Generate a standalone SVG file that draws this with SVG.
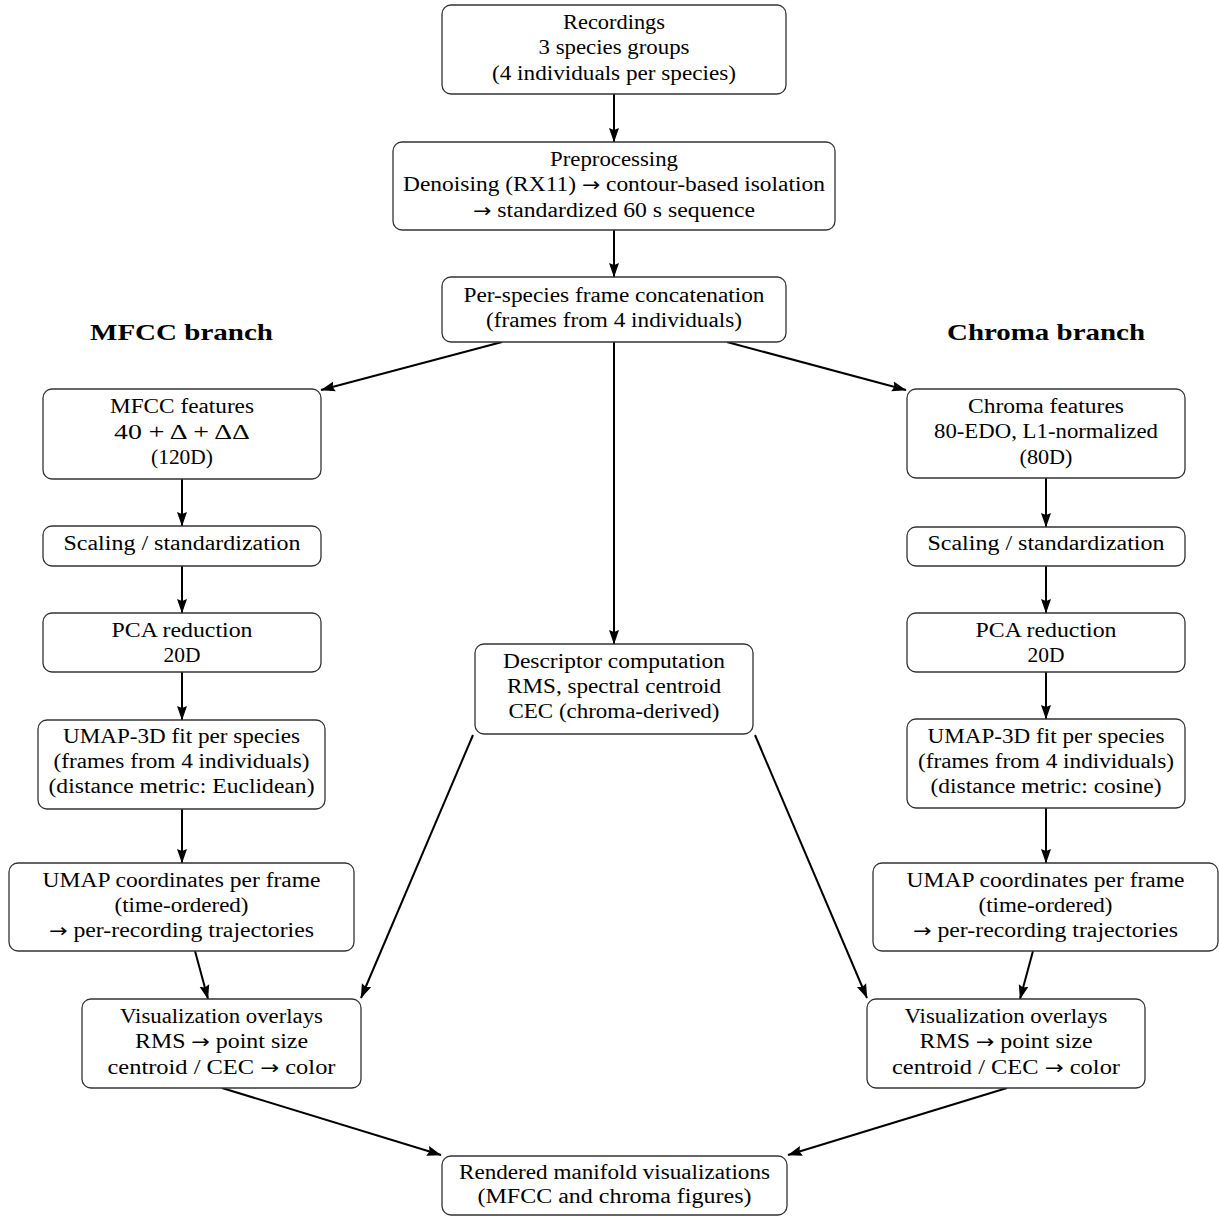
<svg xmlns="http://www.w3.org/2000/svg" width="1219" height="1216" viewBox="0 0 1219 1216">
<style>
  .box { fill: #ffffff; stroke: #333333; stroke-width: 1.3; }
  .t { font-family: "Liberation Serif", "Times New Roman", serif; font-size: 20.5px; fill: #000000; text-anchor: middle; }
  .ar { font-family: "DejaVu Sans", sans-serif; font-size: 19px; }
  .title { font-family: "Liberation Serif", "Times New Roman", serif; font-size: 24px; font-weight: bold; fill: #000000; text-anchor: middle; }
  .edge { fill: none; stroke: #000000; stroke-width: 2; marker-end: url(#arrow); }
</style>
<defs>
  <marker id="arrow" markerUnits="userSpaceOnUse" markerWidth="16" markerHeight="12" refX="14" refY="5.5" orient="auto">
    <path d="M0,0.5 L14.5,5.5 L0,10.5 L2,5.5 z" fill="#000000"/>
  </marker>
</defs>
<rect width="1219" height="1216" fill="#ffffff"/>

<text class="title" x="181.5" y="340" textLength="183" lengthAdjust="spacingAndGlyphs">MFCC branch</text>
<text class="title" x="1046" y="340" textLength="198" lengthAdjust="spacingAndGlyphs">Chroma branch</text>

<g id="connectors">
  <path class="edge" d="M614,94 L614,142"/>
  <path class="edge" d="M614,230 L614,277"/>
  <path class="edge" d="M502,342 L321,390"/>
  <path class="edge" d="M727,342 L906,390"/>
  <path class="edge" d="M614,342 L614,644"/>
  <path class="edge" d="M182,479 L182,526"/>
  <path class="edge" d="M182,566 L182,613"/>
  <path class="edge" d="M182,672 L182,720"/>
  <path class="edge" d="M182,809 L182,863"/>
  <path class="edge" d="M195,951 L208,999"/>
  <path class="edge" d="M473,735 L361,998"/>
  <path class="edge" d="M755,735 L867,998"/>
  <path class="edge" d="M1046,478 L1046,527"/>
  <path class="edge" d="M1046,566 L1046,613"/>
  <path class="edge" d="M1046,672 L1046,719"/>
  <path class="edge" d="M1046,808 L1046,863"/>
  <path class="edge" d="M1033,951 L1020,999"/>
  <path class="edge" d="M222,1088 L441,1155"/>
  <path class="edge" d="M1007,1088 L788,1155"/>
</g>

<g id="recordings">
  <rect class="box" x="442" y="5" width="344" height="89" rx="9"/>
  <text class="t" x="614" y="29" textLength="102" lengthAdjust="spacingAndGlyphs">Recordings</text>
  <text class="t" x="614" y="54" textLength="151" lengthAdjust="spacingAndGlyphs">3 species groups</text>
  <text class="t" x="614" y="79.5" textLength="244" lengthAdjust="spacingAndGlyphs">(4 individuals per species)</text>
</g>

<g id="preprocessing">
  <rect class="box" x="393" y="142" width="442" height="88" rx="9"/>
  <text class="t" x="614" y="166" textLength="128" lengthAdjust="spacingAndGlyphs">Preprocessing</text>
  <text class="t" x="614" y="191" textLength="422" lengthAdjust="spacingAndGlyphs">Denoising (RX11) <tspan class="ar">→</tspan> contour-based isolation</text>
  <text class="t" x="614" y="216.5" textLength="282" lengthAdjust="spacingAndGlyphs"><tspan class="ar">→</tspan> standardized 60 s sequence</text>
</g>

<g id="concatenation">
  <rect class="box" x="442" y="277" width="344" height="65" rx="9"/>
  <text class="t" x="614" y="302" textLength="301" lengthAdjust="spacingAndGlyphs">Per-species frame concatenation</text>
  <text class="t" x="614" y="327" textLength="256" lengthAdjust="spacingAndGlyphs">(frames from 4 individuals)</text>
</g>

<g id="mfcc-features">
  <rect class="box" x="43" y="389" width="278" height="90" rx="9"/>
  <text class="t" x="182" y="413" textLength="144" lengthAdjust="spacingAndGlyphs">MFCC features</text>
  <text class="t" x="182" y="438.5" textLength="136" lengthAdjust="spacingAndGlyphs">40 + Δ + ΔΔ</text>
  <text class="t" x="182" y="464" textLength="62" lengthAdjust="spacingAndGlyphs">(120D)</text>
</g>

<g id="mfcc-scaling">
  <rect class="box" x="43" y="526" width="278" height="40" rx="9"/>
  <text class="t" x="182" y="550" textLength="237" lengthAdjust="spacingAndGlyphs">Scaling / standardization</text>
</g>

<g id="mfcc-pca">
  <rect class="box" x="43" y="613" width="278" height="59" rx="9"/>
  <text class="t" x="182" y="637" textLength="141" lengthAdjust="spacingAndGlyphs">PCA reduction</text>
  <text class="t" x="182" y="662" textLength="37" lengthAdjust="spacingAndGlyphs">20D</text>
</g>

<g id="mfcc-umap">
  <rect class="box" x="38" y="720" width="287" height="89" rx="9"/>
  <text class="t" x="181.5" y="743" textLength="237" lengthAdjust="spacingAndGlyphs">UMAP-3D fit per species</text>
  <text class="t" x="181.5" y="768" textLength="256" lengthAdjust="spacingAndGlyphs">(frames from 4 individuals)</text>
  <text class="t" x="181.5" y="793" textLength="266" lengthAdjust="spacingAndGlyphs">(distance metric: Euclidean)</text>
</g>

<g id="mfcc-coords">
  <rect class="box" x="9" y="863" width="345" height="88" rx="9"/>
  <text class="t" x="181.5" y="887" textLength="278" lengthAdjust="spacingAndGlyphs">UMAP coordinates per frame</text>
  <text class="t" x="181.5" y="912" textLength="134" lengthAdjust="spacingAndGlyphs">(time-ordered)</text>
  <text class="t" x="181.5" y="937" textLength="265" lengthAdjust="spacingAndGlyphs"><tspan class="ar">→</tspan> per-recording trajectories</text>
</g>

<g id="mfcc-overlays">
  <rect class="box" x="82" y="999" width="279" height="89" rx="9"/>
  <text class="t" x="221.5" y="1023" textLength="203" lengthAdjust="spacingAndGlyphs">Visualization overlays</text>
  <text class="t" x="221.5" y="1048" textLength="173" lengthAdjust="spacingAndGlyphs">RMS <tspan class="ar">→</tspan> point size</text>
  <text class="t" x="221.5" y="1073.5" textLength="228" lengthAdjust="spacingAndGlyphs">centroid / CEC <tspan class="ar">→</tspan> color</text>
</g>

<g id="descriptors">
  <rect class="box" x="475" y="644" width="278" height="90" rx="9"/>
  <text class="t" x="614" y="668" textLength="222" lengthAdjust="spacingAndGlyphs">Descriptor computation</text>
  <text class="t" x="614" y="693" textLength="214" lengthAdjust="spacingAndGlyphs">RMS, spectral centroid</text>
  <text class="t" x="614" y="718" textLength="211" lengthAdjust="spacingAndGlyphs">CEC (chroma-derived)</text>
</g>

<g id="chroma-features">
  <rect class="box" x="907" y="389" width="278" height="89" rx="9"/>
  <text class="t" x="1046" y="412.5" textLength="156" lengthAdjust="spacingAndGlyphs">Chroma features</text>
  <text class="t" x="1046" y="438" textLength="224" lengthAdjust="spacingAndGlyphs">80-EDO, L1-normalized</text>
  <text class="t" x="1046" y="463.5" textLength="53" lengthAdjust="spacingAndGlyphs">(80D)</text>
</g>

<g id="chroma-scaling">
  <rect class="box" x="907" y="527" width="278" height="39" rx="9"/>
  <text class="t" x="1046" y="550" textLength="237" lengthAdjust="spacingAndGlyphs">Scaling / standardization</text>
</g>

<g id="chroma-pca">
  <rect class="box" x="907" y="613" width="278" height="59" rx="9"/>
  <text class="t" x="1046" y="637" textLength="141" lengthAdjust="spacingAndGlyphs">PCA reduction</text>
  <text class="t" x="1046" y="662" textLength="37" lengthAdjust="spacingAndGlyphs">20D</text>
</g>

<g id="chroma-umap">
  <rect class="box" x="907" y="719" width="278" height="89" rx="9"/>
  <text class="t" x="1046" y="743" textLength="237" lengthAdjust="spacingAndGlyphs">UMAP-3D fit per species</text>
  <text class="t" x="1046" y="767.5" textLength="256" lengthAdjust="spacingAndGlyphs">(frames from 4 individuals)</text>
  <text class="t" x="1046" y="792.5" textLength="231" lengthAdjust="spacingAndGlyphs">(distance metric: cosine)</text>
</g>

<g id="chroma-coords">
  <rect class="box" x="873" y="863" width="345" height="88" rx="9"/>
  <text class="t" x="1045.5" y="887" textLength="278" lengthAdjust="spacingAndGlyphs">UMAP coordinates per frame</text>
  <text class="t" x="1045.5" y="912" textLength="134" lengthAdjust="spacingAndGlyphs">(time-ordered)</text>
  <text class="t" x="1045.5" y="937" textLength="265" lengthAdjust="spacingAndGlyphs"><tspan class="ar">→</tspan> per-recording trajectories</text>
</g>

<g id="chroma-overlays">
  <rect class="box" x="867" y="999" width="278" height="89" rx="9"/>
  <text class="t" x="1006" y="1023" textLength="203" lengthAdjust="spacingAndGlyphs">Visualization overlays</text>
  <text class="t" x="1006" y="1048" textLength="173" lengthAdjust="spacingAndGlyphs">RMS <tspan class="ar">→</tspan> point size</text>
  <text class="t" x="1006" y="1073.5" textLength="228" lengthAdjust="spacingAndGlyphs">centroid / CEC <tspan class="ar">→</tspan> color</text>
</g>

<g id="rendered">
  <rect class="box" x="442" y="1156" width="345" height="59" rx="9"/>
  <text class="t" x="614.5" y="1179" textLength="311" lengthAdjust="spacingAndGlyphs">Rendered manifold visualizations</text>
  <text class="t" x="614.5" y="1203" textLength="274" lengthAdjust="spacingAndGlyphs">(MFCC and chroma figures)</text>
</g>
</svg>
